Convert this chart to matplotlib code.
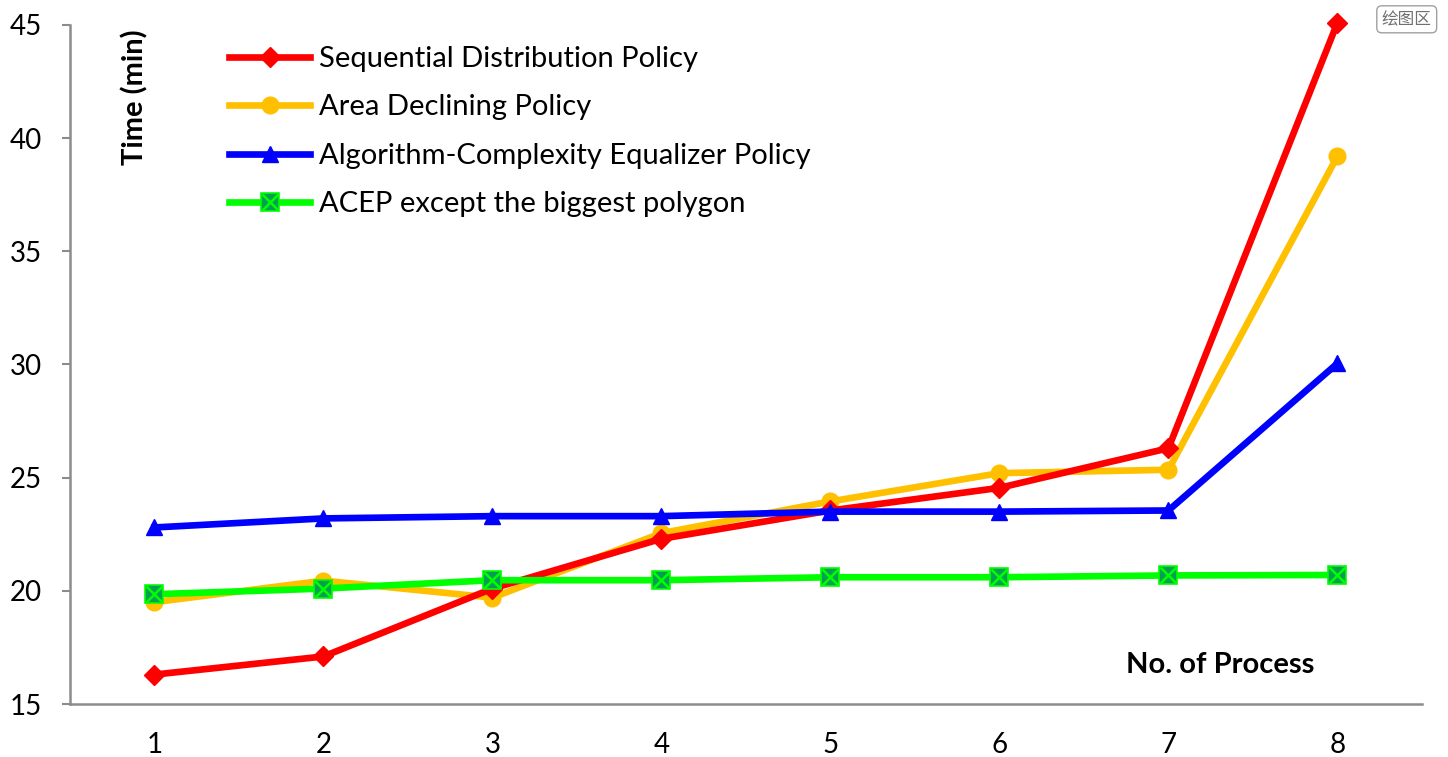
import matplotlib
matplotlib.use("Agg")
import matplotlib.pyplot as plt
from matplotlib.legend_handler import HandlerTuple

processes = [1, 2, 3, 4, 5, 6, 7, 8]
sequential = [16.3, 17.1, 20.1, 22.3, 23.55, 24.55, 26.3, 45.1]
area_declining = [19.5, 20.45, 19.7, 22.55, 23.95, 25.2, 25.35, 39.2]
ace_policy = [22.8, 23.2, 23.3, 23.3, 23.5, 23.5, 23.55, 30.05]
acep_except = [19.85, 20.1, 20.47, 20.47, 20.6, 20.6, 20.68, 20.7]

labels = ["Sequential Distribution Policy", "Area Declining Policy",
          "Algorithm-Complexity Equalizer Policy", "ACEP except the biggest polygon"]
yticks = [15, 20, 25, 30, 35, 40, 45]

plt.rcParams['font.family'] = ['Lato', 'DejaVu Sans']

fig = plt.figure(figsize=(14.48, 7.57), dpi=100)
ax = fig.add_axes([0.0483, 0.070, 0.9337, 0.897])

lw = 4.8
l1, = ax.plot(processes, sequential, color='#ff0000', lw=lw, marker='D', ms=10,
              mfc='#ff0000', mec='#ff0000', zorder=3, label=labels[0], clip_on=False)
l2, = ax.plot(processes, area_declining, color='#ffc000', lw=lw, marker='o', ms=12,
              mfc='#ffc000', mec='#ffc000', zorder=2, label=labels[1])
l3, = ax.plot(processes, ace_policy, color='#0000ff', lw=lw, marker='^', ms=12,
              mfc='#0000ff', mec='#0000ff', zorder=4, label=labels[2])
l4, = ax.plot(processes, acep_except, color='#00ff00', lw=lw, marker='s', ms=12.5,
              mfc='#00a050', mec='#00ff00', mew=1.2, zorder=5, label=labels[3])
l4x, = ax.plot(processes, acep_except, ls='none', marker='x', ms=11,
               mec='#00ff00', mew=1.8, zorder=6)

ax.set_xlim(0.5, 8.5)
ax.set_ylim(15, 45)
ax.set_yticks(yticks)
ax.set_xticks(processes)

for s in ['top', 'right']:
    ax.spines[s].set_visible(False)
for s in ['left', 'bottom']:
    ax.spines[s].set_color('#8c8c8c')
    ax.spines[s].set_linewidth(1.8)

ax.tick_params(axis='y', length=6, width=1.5, color='#8c8c8c', pad=14,
               labelsize=20, labelcolor='black')
ax.tick_params(axis='x', length=0, pad=20, labelsize=20, labelcolor='black')

ax.text(0.048, 0.894, "Time (min)", rotation=90, transform=ax.transAxes,
        fontsize=21, fontweight='bold', ha='center', va='center')
ax.text(0.851, 0.057, "No. of Process", transform=ax.transAxes,
        fontsize=21, fontweight='bold', ha='center', va='center')

leg = ax.legend([l1, l2, l3, (l4, l4x)], labels, loc='upper left',
                bbox_to_anchor=(0.098, 1.008), frameon=False, fontsize=21,
                handlelength=2.8, handletextpad=0.3, labelspacing=0.77,
                handler_map={tuple: HandlerTuple(ndivide=1, pad=0)})

fig.text(0.9715, 0.9745, "绘图区", family=['Noto Sans CJK SC', 'DejaVu Sans'],
         fontsize=12, color='#707070', ha='center', va='center',
         bbox=dict(boxstyle='round,pad=0.3', fc='white', ec='#a0a0a0', lw=1.0))

fig.savefig("out.png", dpi=100)
